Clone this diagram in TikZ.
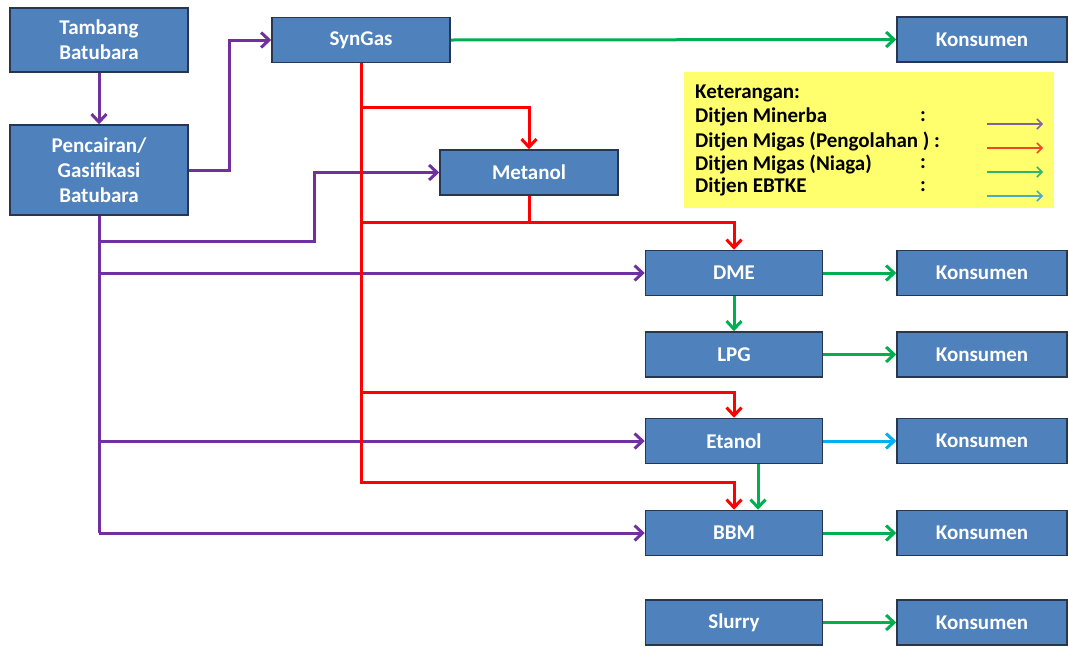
\documentclass[tikz,border=0pt]{standalone}
\usepackage{fontspec}
\setmainfont{Carlito}
\usetikzlibrary{arrows.meta,calc}
\definecolor{boxblue}{RGB}{79,129,189}
\definecolor{boxedge}{RGB}{40,55,80}
\definecolor{cpurple}{RGB}{112,48,160}
\definecolor{cred}{RGB}{255,0,0}
\definecolor{cgreen}{RGB}{0,176,80}
\definecolor{ccyan}{RGB}{0,176,240}
\definecolor{lpurple}{RGB}{128,100,162}
\definecolor{lred}{RGB}{240,70,40}
\definecolor{lgreen}{RGB}{50,180,110}
\definecolor{lcyan}{RGB}{75,172,198}
\definecolor{legyellow}{RGB}{255,255,110}
\tikzset{
  box/.style={draw=boxedge, fill=boxblue, line width=1.5pt, text=white,
    font=\bfseries\fontsize{21}{25}\selectfont, align=center, inner sep=0pt,
    minimum width=178pt, minimum height=45pt},
  kbox/.style={box, minimum width=170pt},
  conn/.style={line width=3pt, -{Straight Barb[length=8pt,width=15pt,line width=3pt]}},
  trunk/.style={line width=3pt},
  pl/.style={conn, draw=cpurple},
  rl/.style={conn, draw=cred},
  gl/.style={conn, draw=cgreen},
  cl/.style={conn, draw=ccyan},
  legtext/.style={anchor=west, inner sep=0pt, font=\bfseries\fontsize{21}{24}\selectfont},
  legarrow/.style={line width=1.5pt, -{Straight Barb[length=5pt,width=10pt,line width=1.5pt]}}
}
\begin{document}
\begin{tikzpicture}[x=1pt,y=-1pt]
\useasboundingbox (0,0) rectangle (1068,646);
% nodes
\node[box, minimum height=64pt] (tambang) at (99,40) {Tambang\\Batubara};
\node[box, minimum height=90pt] (pencairan) at (99,170) {Pencairan/\\Gasifikasi\\Batubara};
\node[box] (syngas) at (361,40) {SynGas};
\node[box] (metanol) at (529,172.5) {Metanol};
\node[box, minimum width=177pt] (dme) at (734,273) {DME};
\node[box, minimum width=177pt] (lpg) at (734,354.5) {LPG};
\node[box, minimum width=177pt] (etanol) at (734,441) {Etanol};
\node[box, minimum width=177pt] (bbm) at (734,533) {BBM};
\node[box, minimum width=177pt] (slurry) at (734,622.5) {Slurry};
\node[kbox] (k1) at (982,39.5) {Konsumen};
\node[kbox] (k2) at (982,273) {Konsumen};
\node[kbox] (k3) at (982,354.5) {Konsumen};
\node[kbox] (k4) at (982,441) {Konsumen};
\node[kbox] (k5) at (982,533) {Konsumen};
\node[kbox] (k6) at (982,622.5) {Konsumen};
% legend
\node[fill=legyellow, minimum width=370pt, minimum height=136pt, inner sep=0pt] (legend) at (869,140) {};
\node[legtext] (l0) at (695,93) {Keterangan:};
\node[legtext] (l1) at (695,117) {Ditjen Minerba};
\node[legtext] (l2) at (695,141) {Ditjen Migas (Pengolahan ) :};
\node[legtext] (l3) at (695,164) {Ditjen Migas (Niaga)};
\node[legtext] (l4) at (695,187) {Ditjen EBTKE};
\node[legtext] (c1) at (920,117) {:};
\node[legtext] (c3) at (920,164) {:};
\node[legtext] (c4) at (920,187) {:};
\coordinate (la1) at (987,124); \coordinate (lb1) at (1043,124);
\coordinate (la2) at (987,148); \coordinate (lb2) at (1043,148);
\coordinate (la3) at (987,172); \coordinate (lb3) at (1043,172);
\coordinate (la4) at (987,196); \coordinate (lb4) at (1043,196);
\draw[legarrow, draw=lpurple] (la1) -- (lb1);
\draw[legarrow, draw=lred] (la2) -- (lb2);
\draw[legarrow, draw=lgreen] (la3) -- (lb3);
\draw[legarrow, draw=lcyan] (la4) -- (lb4);
% purple connectors
\coordinate (pm) at (99,241);
\coordinate (pmk) at (314,241);
\draw[pl] (tambang) -- (pencairan);
\draw[pl] (pencairan.east) -- ++(41,0) |- (syngas.west);
\draw[trunk, cpurple, line join=round] (pencairan.south) -- (pencairan.south |- bbm.west);
\draw[pl] (pencairan.south |- bbm.west) -- (bbm.west);
\draw[pl] (pencairan.south |- etanol.west) -- (etanol.west);
\draw[pl] (pencairan.south |- dme.west) -- (dme.west);
\draw[pl] (pm) -- (pmk) |- (metanol.west);
% red connectors
\coordinate (r1) at (361,107);
\coordinate (r2) at (361,222);
\coordinate (r3) at (361,392);
\coordinate (r4) at (361,482);
\draw[rl] (syngas.south) -- (r4) -| (bbm.north);
\draw[rl] (r1) -| (metanol.north);
\draw[rl] (r2) -| (dme.north);
\draw[trunk, cred] (metanol.south) -- (metanol.south |- r2);
\draw[rl] (r3) -| (etanol.north);
% green / cyan connectors
\draw[gl] (syngas.east) -- (k1.west);
\draw[gl] (dme.east) -- (k2.west);
\draw[gl] (dme.south) -- (lpg.north);
\draw[gl] (lpg.east) -- (k3.west);
\draw[cl] (etanol.east) -- (k4.west);
\draw[gl] ([xshift=24pt]etanol.south) -- ([xshift=24pt]bbm.north);
\draw[gl] (bbm.east) -- (k5.west);
\draw[gl] (slurry.east) -- (k6.west);
\end{tikzpicture}
\end{document}
